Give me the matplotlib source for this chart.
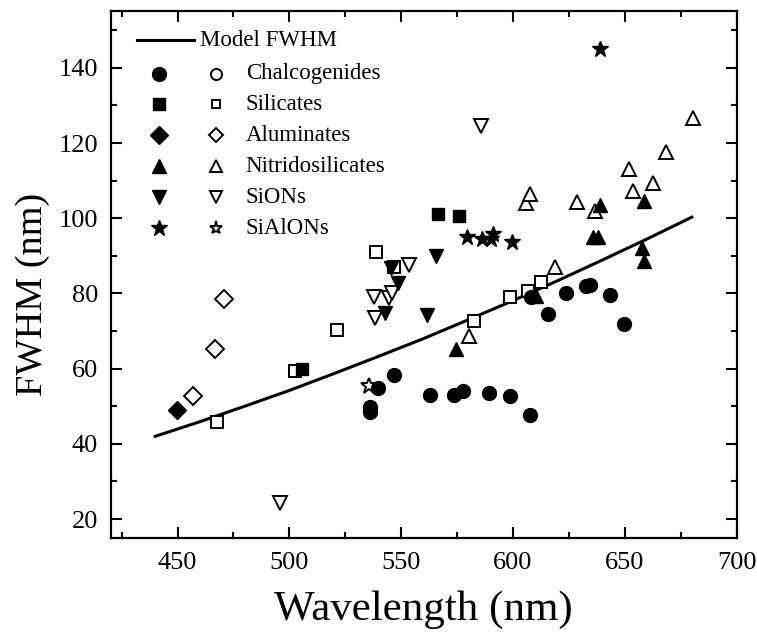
import numpy as np
import matplotlib
matplotlib.use('Agg')
from matplotlib import pyplot as plt

plt.rcParams['font.family'] = ['Liberation Serif', 'DejaVu Serif']

# model curve
model_wl = [440, 460, 480, 500, 520, 540, 560, 580, 600, 620, 640, 660, 680]
model_fwhm = [42.0, 45.9, 50.0, 54.2, 58.7, 63.3, 68.0, 73.0, 78.1, 83.4, 88.9, 94.5, 100.3]

# Chalcogenides
chalc_wl = [536, 536, 539.6, 546.8, 562.7, 573.5, 577.7, 589.5, 598.5, 607.5,
            608.2, 615.6, 623.5, 632.5, 634.3, 643.6, 649.6]
chalc_fwhm = [49.9, 48.6, 54.8, 58.3, 53.0, 53.0, 54.1, 53.4, 52.8, 47.7,
              79.1, 74.5, 80.1, 82.0, 82.3, 79.5, 72.0]
chalc_open_wl = []
chalc_open_fwhm = []

# Silicates
sil_wl = [505.8, 566.4, 575.7]
sil_fwhm = [59.8, 101.1, 100.7]
sil_open_wl = [467.7, 502.7, 521.3, 538.6, 546.8, 582.4, 598.5, 606.5, 612.4]
sil_open_fwhm = [45.7, 59.4, 70.2, 91.0, 87.1, 72.7, 79.0, 80.6, 83.1]

# Aluminates
alu_wl = [449.8]
alu_fwhm = [49.0]
alu_open_wl = [456.7, 466.6, 470.8]
alu_open_fwhm = [52.8, 65.2, 78.4]

# Nitridosilicates
nit_wl = [574.6, 610.4, 635.8, 638.0, 639.0, 657.6, 658.5, 658.5]
nit_fwhm = [65.3, 79.3, 94.9, 95.0, 103.5, 92.0, 88.7, 104.6]
nit_open_wl = [580.3, 605.7, 607.7, 618.6, 628.6, 636.8, 651.7, 653.6, 662.6, 668.5, 680.4]
nit_open_fwhm = [68.6, 104.1, 106.4, 87.1, 104.2, 102.0, 113.2, 107.3, 109.5, 117.6, 126.7]

# SiONs
sion_wl = [542.9, 545.3, 548.6, 561.7, 565.7]
sion_fwhm = [74.7, 86.7, 82.7, 74.2, 89.9]
sion_open_wl = [495.7, 537.7, 538.5, 544.5, 545.8, 553.5, 585.5]
sion_open_fwhm = [24.2, 79.1, 73.4, 78.7, 80.0, 87.5, 124.5]

# SiAlONs
sialon_wl = [579.4, 586.2, 590.3, 591.2, 599.4, 638.8]
sialon_fwhm = [94.9, 94.6, 94.6, 95.7, 93.6, 145.1]
sialon_open_wl = [535.5]
sialon_open_fwhm = [55.3]

labels = ['Chalcogenides', 'Silicates', 'Aluminates', 'Nitridosilicates', 'SiONs', 'SiAlONs']
markers = ['o', 's', 'D', '^', 'v', '*']
sizes = [10, 8, 9, 10, 10, 12]
filled = [(chalc_wl, chalc_fwhm), (sil_wl, sil_fwhm), (alu_wl, alu_fwhm),
          (nit_wl, nit_fwhm), (sion_wl, sion_fwhm), (sialon_wl, sialon_fwhm)]
opened = [(chalc_open_wl, chalc_open_fwhm), (sil_open_wl, sil_open_fwhm),
          (alu_open_wl, alu_open_fwhm), (nit_open_wl, nit_open_fwhm),
          (sion_open_wl, sion_open_fwhm), (sialon_open_wl, sialon_open_fwhm)]

fig = plt.figure(figsize=(7.57, 6.38), dpi=100)
ax = fig.add_axes([0.146, 0.157, 0.827, 0.825])

ax.plot(model_wl, model_fwhm, color='black', lw=2.2, zorder=2)

for (ow, of), m, s in zip(opened, markers, sizes):
    ax.plot(ow, of, ls='none', marker=m, ms=s, mfc='white', mec='black', mew=1.4, zorder=3)
for (fw, ff), m, s in zip(filled, markers, sizes):
    ax.plot(fw, ff, ls='none', marker=m, ms=s, mfc='black', mec='black', mew=1.0, zorder=4)

ax.set_xlim(420, 700)
ax.set_ylim(15, 155)
ax.set_xticks([450, 500, 550, 600, 650, 700])
ax.set_xticks([425, 475, 525, 575, 625, 675], minor=True)
ax.set_yticks([20, 40, 60, 80, 100, 120, 140])
ax.set_yticks([30, 50, 70, 90, 110, 130, 150], minor=True)
ax.tick_params(which='both', direction='in', top=True, right=True, width=1.5, labelsize=19)
ax.tick_params(which='major', length=8)
ax.tick_params(axis='x', which='major', pad=10)
ax.tick_params(axis='y', which='major', pad=9)
ax.tick_params(which='minor', length=4.5)
for sp in ax.spines.values():
    sp.set_linewidth(1.6)

ax.set_xlabel('Wavelength (nm)', fontsize=31, labelpad=12)
ax.set_ylabel('FWHM (nm)', fontsize=27.5)
ax.yaxis.set_label_coords(-0.097, 0.462)

# legend drawn by hand in axes fraction
tr = ax.transAxes
ax.plot([0.042, 0.134], [0.945, 0.945], color='black', lw=2.2, transform=tr, clip_on=False)
ax.text(0.143, 0.945, 'Model FWHM', transform=tr, fontsize=16.5, va='center', ha='left')
row_y = [0.882, 0.824, 0.765, 0.706, 0.647, 0.588]
for lab, m, s, y in zip(labels, markers, sizes, row_y):
    ax.plot([0.077], [y], marker=m, ms=s, mfc='black', mec='black', transform=tr, clip_on=False)
    ax.plot([0.169], [y], marker=m, ms=s * 0.8, mfc='white', mec='black', mew=1.4,
            transform=tr, clip_on=False)
    ax.text(0.216, y, lab, transform=tr, fontsize=16.5, va='center', ha='left')

fig.savefig('out.png', dpi=100)
